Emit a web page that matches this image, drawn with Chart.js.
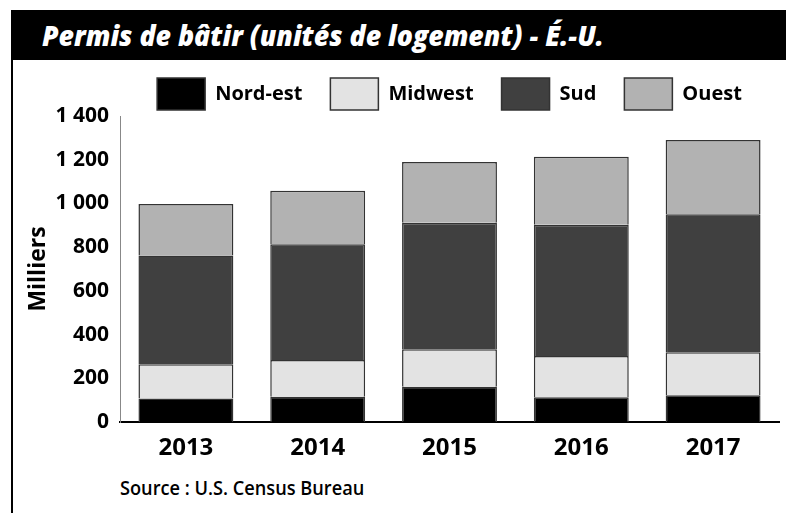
<!DOCTYPE html>
<html lang="fr">
<head>
<meta charset="utf-8">
<title>Permis de bâtir</title>
<script src="https://cdn.jsdelivr.net/npm/chart.js@4.4.0/dist/chart.umd.min.js"></script>
<style>
    html, body { margin: 0; padding: 0; background: #fff; }
    body { width: 786px; height: 513px; position: relative; overflow: hidden; font-family: 'Open Sans', sans-serif; }
    .graphique { position: absolute; left: 12px; top: 20px; width: 774px; height: 440px; }
    .entete { position: absolute; left: 11px; top: 10px; right: 0; height: 50px; background: #000; }
    .entete h1 {
        margin: 0; position: absolute; left: 31px; top: 0; line-height: 50px;
        color: #fff; font-size: 29px; font-weight: 800; font-style: italic; white-space: nowrap;
        transform: scaleX(0.92); transform-origin: left center;
    }
    .cadre { position: absolute; left: 11px; top: 60px; bottom: 0; width: 2px; background: #000; }
    .source {
        position: absolute; left: 120px; top: 476px; font-size: 20px; font-weight: 600; line-height: 24px;
        color: #000; white-space: nowrap; transform: scaleX(0.91); transform-origin: left center;
    }
</style>
</head>
<body>
<canvas id="permis" class="graphique" width="774" height="440"></canvas>
<div class="entete"><h1>Permis de bâtir (unités de logement) - É.-U.</h1></div>
<div class="cadre"></div>
<div class="source">Source : U.S. Census Bureau</div>

<script>
// Données (milliers d'unités)
const annees = ['2013', '2014', '2015', '2016', '2017'];
const nordEst = [107, 116, 161, 113, 122];
const midwest = [157, 168, 172, 189, 197];
const sud = [498, 529, 579, 601, 632];
const ouest = [235, 245, 277, 311, 339];
const graduationsY = [0, 200, 400, 600, 800, 1000, 1200, 1400];

const police = "'Open Sans', sans-serif";

// Séparateur de milliers avec espace
function formatMilliers(v) {
    return String(v).replace(/\B(?=(\d{3})+(?!\d))/g, ' ');
}

function serie(label, data, couleur) {
    return {
        label: label,
        data: data,
        backgroundColor: couleur,
        borderColor: '#333',
        borderWidth: 1.5
    };
}

new Chart(document.getElementById('permis'), {
    type: 'bar',
    data: {
        labels: annees,
        datasets: [
            serie('Nord-est', nordEst, '#000000'),
            serie('Midwest', midwest, '#e3e3e3'),
            serie('Sud', sud, '#404040'),
            serie('Ouest', ouest, '#b2b2b2')
        ]
    },
    options: {
        responsive: false,
        animation: false,
        devicePixelRatio: 1,
        layout: { padding: { top: 30, right: 7, left: 0, bottom: 0 } },
        datasets: {
            bar: { barPercentage: 0.72, categoryPercentage: 1 }
        },
        plugins: {
            tooltip: { enabled: false },
            legend: {
                position: 'top',
                fullSize: false,
                maxHeight: 66,
                labels: {
                    boxWidth: 48,
                    boxHeight: 32,
                    padding: 28,
                    color: '#000',
                    font: { family: police, size: 20, weight: '700' }
                }
            }
        },
        scales: {
            x: {
                stacked: true,
                grid: { display: false },
                border: { display: true, color: '#000', width: 2 },
                ticks: {
                    color: '#000',
                    padding: 4,
                    font: { family: police, size: 24, weight: 'bold' }
                },
                afterFit: function(scale) { scale.height = 38; }
            },
            y: {
                stacked: true,
                min: 0,
                max: 1400,
                grid: { display: false },
                border: { display: true, color: '#888', width: 1 },
                ticks: {
                    color: '#000',
                    padding: 3,
                    font: { family: police, size: 21, weight: 'bold' },
                    callback: function(v) { return formatMilliers(v); }
                },
                afterBuildTicks: function(scale) {
                    scale.ticks = graduationsY.map(v => ({ value: v }));
                },
                title: {
                    display: true,
                    text: 'Milliers',
                    color: '#000',
                    padding: { top: 13, bottom: 0 },
                    font: { family: police, size: 23, weight: 'bold' }
                },
                afterFit: function(scale) { scale.width = 108; }
            }
        }
    }
});
</script>
</body>
</html>
